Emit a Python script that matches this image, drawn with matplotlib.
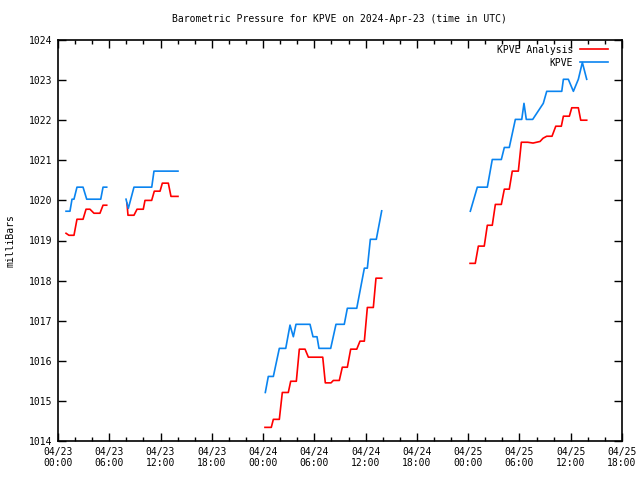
from datetime import datetime, timedelta
import numpy as np
import matplotlib
matplotlib.use("Agg")
import matplotlib.pyplot as plt
import matplotlib.dates as mdates

nan = np.nan

# hours after 2024-04-23 00:00 UTC, nan breaks the line at data gaps
analysis_hours = [0.94, 1.28, 1.87, 2.22, 2.93, 3.28, 3.74, 4.21, 4.91, 5.27, 5.70, nan,
                  8.07, 8.19, 8.89, 9.25, 9.98, 10.18, 10.96, 11.27, 11.94, 12.21, 12.91, 13.22, 14.04, nan,
                  24.22, 24.96, 25.20, 25.90, 26.25, 26.95, 27.23, 27.89, 28.24, 28.91, 29.30, 30.98,
                  31.28, 31.95, 32.22, 32.92, 33.27, 33.86, 34.25, 34.96, 35.34, 35.85, 36.20, 36.90,
                  37.21, 37.88, nan,
                  48.22, 48.83, 49.19, 49.88, 50.24, 50.82, 51.18, 51.88, 52.23, 52.81, 53.16, 53.87,
                  54.22, 54.97, 55.59, 56.41, 56.76, 57.19, 57.81, 58.25, 58.90, 59.14, 59.84, 60.12,
                  60.89, 61.17, 61.87]
analysis_mb = [1019.18, 1019.13, 1019.13, 1019.53, 1019.53, 1019.78, 1019.78, 1019.68, 1019.68, 1019.88, 1019.88, nan,
               1019.93, 1019.63, 1019.63, 1019.78, 1019.78, 1020.00, 1020.00, 1020.23, 1020.23, 1020.43, 1020.43, 1020.10, 1020.10, nan,
               1014.34, 1014.34, 1014.54, 1014.54, 1015.21, 1015.21, 1015.49, 1015.49, 1016.29, 1016.29, 1016.09, 1016.09,
               1015.45, 1015.45, 1015.51, 1015.51, 1015.84, 1015.84, 1016.29, 1016.29, 1016.49, 1016.49, 1017.33, 1017.33,
               1018.06, 1018.06, nan,
               1018.43, 1018.43, 1018.86, 1018.86, 1019.38, 1019.38, 1019.90, 1019.90, 1020.28, 1020.28, 1020.73, 1020.73,
               1021.45, 1021.45, 1021.43, 1021.47, 1021.55, 1021.60, 1021.60, 1021.85, 1021.85, 1022.10, 1022.10, 1022.31,
               1022.31, 1022.00, 1022.00]

obs_hours = [0.94, 1.40, 1.64, 1.87, 2.22, 2.93, 3.36, 5.00, 5.27, 5.70, nan,
             7.96, 8.23, 8.89, 10.97, 11.23, 14.04, nan,
             24.26, 24.61, 25.20, 25.90, 26.65, 27.15, 27.54, 27.85, 29.49, 29.84, 30.31, 30.54,
             31.91, 32.53, 33.50, 33.86, 34.96, 35.85, 36.20, 36.55, 37.25, 37.88, nan,
             48.25, 49.07, 50.24, 50.82, 51.88, 52.23, 52.81, 53.52, 54.27, 54.53, 54.80, 55.55,
             56.79, 57.19, 58.95, 59.14, 59.72, 60.31, 60.89, 61.36, 61.87]
obs_mb = [1019.73, 1019.73, 1020.03, 1020.03, 1020.33, 1020.33, 1020.03, 1020.03, 1020.33, 1020.33, nan,
          1020.03, 1019.80, 1020.33, 1020.33, 1020.73, 1020.73, nan,
          1015.21, 1015.61, 1015.61, 1016.31, 1016.31, 1016.89, 1016.60, 1016.91, 1016.91, 1016.60, 1016.60, 1016.31,
          1016.31, 1016.91, 1016.91, 1017.31, 1017.31, 1018.31, 1018.31, 1019.03, 1019.03, 1019.74, nan,
          1019.73, 1020.33, 1020.33, 1021.02, 1021.02, 1021.32, 1021.32, 1022.02, 1022.02, 1022.42, 1022.02, 1022.02,
          1022.42, 1022.72, 1022.72, 1023.02, 1023.02, 1022.72, 1023.02, 1023.44, 1023.02]

start = datetime(2024, 4, 23)
span_hours = 66


def to_datenums(hours):
    hours = np.asarray(hours, dtype=float)
    t = mdates.date2num([start + timedelta(hours=h) for h in np.nan_to_num(hours)])
    return np.where(np.isnan(hours), nan, t)


plt.rcParams['font.family'] = ['DejaVu Sans Mono']
plt.rcParams['font.size'] = 7

fig = plt.figure(figsize=(6.4, 4.8), dpi=100)
ax = fig.add_axes([58 / 640, 39 / 480, 564 / 640, 401 / 480])

ax.plot(to_datenums(analysis_hours), analysis_mb, color='#ff0000', lw=1.2, label='KPVE Analysis')
ax.plot(to_datenums(obs_hours), obs_mb, color='#0a84f0', lw=1.2, label='KPVE')

ax.set_xlim(mdates.date2num(start), mdates.date2num(start + timedelta(hours=span_hours)))
ax.set_ylim(1014, 1024)
ax.xaxis_date()
ax.xaxis.set_major_locator(mdates.HourLocator(byhour=range(0, 24, 6)))
ax.xaxis.set_minor_locator(mdates.HourLocator(byhour=range(0, 24, 2)))
ax.xaxis.set_major_formatter(mdates.DateFormatter('%m/%d\n%H:%M'))
ax.set_yticks(np.arange(1014, 1025, 1))

ax.tick_params(which='both', direction='in', top=True, right=True, width=1)
ax.tick_params(which='major', length=6, pad=4)
ax.tick_params(which='minor', length=3)
for s in ax.spines.values():
    s.set_linewidth(1.2)

ax.set_ylabel('milliBars', labelpad=10)
fig.text(0.53, 1 - 19 / 480, 'Barometric Pressure for KPVE on 2024-Apr-23 (time in UTC)',
         ha='center', va='center')

ax.legend(loc='upper right', markerfirst=False, frameon=False, handlelength=2.9,
          labelspacing=0.3, borderaxespad=0.0, handletextpad=0.7,
          bbox_to_anchor=(0.982, 0.998))

fig.savefig('out.png', dpi=100)
